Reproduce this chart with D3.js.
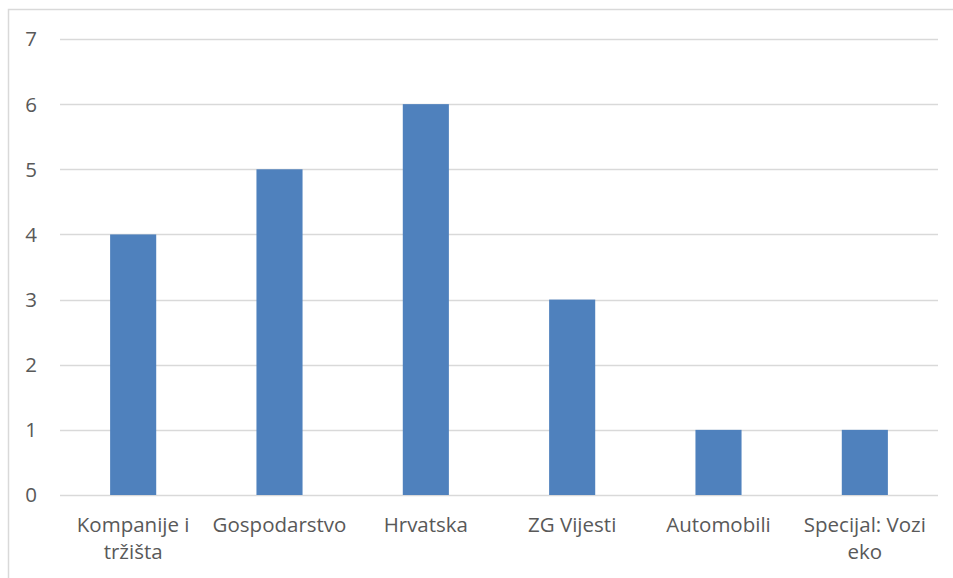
<!DOCTYPE html>
<html>
<head>
<meta charset="utf-8">
<script src="https://cdn.jsdelivr.net/npm/d3@7"></script>
<style>
  body { margin: 0; background: #fff; }
  svg { display: block; }
</style>
</head>
<body>
<div id="chart"></div>
<script>
const categories = ['Kompanije i tržišta', 'Gospodarstvo', 'Hrvatska', 'ZG Vijesti', 'Automobili', 'Specijal: Vozi eko']
const values = [4, 5, 6, 3, 1, 1]
const yTicks = [0, 1, 2, 3, 4, 5, 6, 7]

const width = 953
const height = 578
const margin = { top: 39, left: 60, right: 15, bottom: 83 }

const svg = d3.select('#chart')
  .append('svg')
  .attr('width', width)
  .attr('height', height)
  .style('font-family', '"Open Sans", sans-serif')

// chart frame
svg.append('rect')
  .attr('x', 8.5)
  .attr('y', 9.5)
  .attr('width', width + 10)
  .attr('height', height + 10)
  .attr('fill', '#fff')
  .attr('stroke', '#d9d9d9')
  .attr('stroke-width', 1.5)

const x = d3.scaleBand()
  .domain(categories)
  .range([margin.left, width - margin.right])
  .paddingInner(0.685)
  .paddingOuter(0.3425)

const y = d3.scaleLinear()
  .domain([0, 7])
  .range([height - margin.bottom, margin.top])

// gridlines
svg.append('g')
  .selectAll('line')
  .data(yTicks)
  .enter()
  .append('line')
  .attr('x1', margin.left)
  .attr('x2', width - margin.right)
  .attr('y1', d => Math.round(y(d)) + 0.5)
  .attr('y2', d => Math.round(y(d)) + 0.5)
  .attr('stroke', '#d9d9d9')
  .attr('stroke-width', 1.3)

// y labels
svg.append('g')
  .selectAll('text')
  .data(yTicks)
  .enter()
  .append('text')
  .attr('x', 37)
  .attr('y', d => y(d))
  .attr('dy', '0.36em')
  .attr('text-anchor', 'end')
  .attr('font-size', 20.5)
  .attr('fill', '#595959')
  .text(d => d)

// bars
svg.append('g')
  .selectAll('rect')
  .data(values)
  .enter()
  .append('rect')
  .attr('x', (d, i) => x(categories[i]))
  .attr('width', x.bandwidth())
  .attr('y', d => y(d))
  .attr('height', d => y(0) - y(d))
  .attr('fill', '#4f81bd')

// x labels, wrapped to the category slot
const slot = x.step()
const labels = svg.append('g')
  .selectAll('text')
  .data(categories)
  .enter()
  .append('text')
  .attr('text-anchor', 'middle')
  .attr('font-size', 20.5)
  .attr('fill', '#595959')
  .attr('x', d => x(d) + x.bandwidth() / 2)
  .attr('y', 532)

labels.each(function(d) {
  let text = d3.select(this)
  let words = d.split(' ')
  let lines = []
  let line = []
  let probe = text.append('tspan')
  words.forEach(w => {
    let tryLine = line.concat([w]).join(' ')
    probe.text(tryLine)
    if (line.length && probe.node().getComputedTextLength() > slot - 6) {
      lines.push(line.join(' '))
      line = [w]
    } else {
      line.push(w)
    }
  })
  lines.push(line.join(' '))
  probe.remove()
  let cx = text.attr('x')
  lines.forEach((l, i) => {
    text.append('tspan')
      .attr('x', cx)
      .attr('dy', i === 0 ? 0 : 27)
      .text(l)
  })
})
</script>
</body>
</html>
